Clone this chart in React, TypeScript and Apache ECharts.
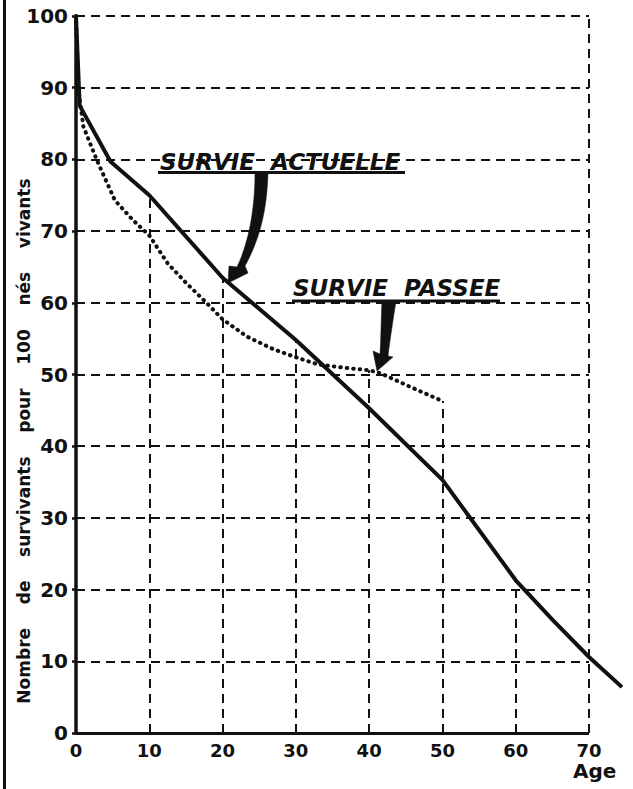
import React, { useEffect, useRef } from "react";
import * as echarts from "echarts";

// Survie actuelle (solid line)
const solidAges = [0, 0.5, 4.7, 10, 20, 30, 40, 50, 60, 65, 70, 74.5];
const solidValues = [100, 87.5, 79.7, 75, 63.5, 54.8, 45.3, 35.3, 21.3, 15.8, 10.6, 6.4];

// Survie passée (dotted line)
const dottedAges = [0, 0.3, 1, 2.8, 5.3, 7.8, 10, 12.5, 15, 17.8, 20, 23.3, 27, 30, 33, 37, 40, 41.5, 46, 50];
const dottedValues = [100, 90, 84.6, 80, 74.3, 71.5, 69.4, 65.5, 62.8, 60, 57.7, 55.3, 53.5, 52.4, 51.4, 50.9, 50.6, 50.2, 48.1, 46.3];

// vertical dashed drop lines (age, top value)
const dropAges = [10, 20, 30, 40, 50, 60, 70];
const dropTops = [74.8, 63.5, 54.8, 50.6, 46.3, 21.3, 100];

// horizontal dashed grid lines
const gridValues = [10, 20, 30, 40, 50, 60, 70, 80, 90, 100];

const xMin = 0;
const xLast = 70; // last labelled age / end of axis line
const xMax = 75; // room for the solid curve beyond 70
const xStep = 10;
const yMin = 0;
const yMax = 100;
const yStep = 10;

const labelActuelle = "SURVIE  ACTUELLE";
const labelPassee = "SURVIE  PASSEE";
const yTitle = "Nombre    de    survivants    pour    100    nés    vivants";
const xTitle = "Age";

const arrow1 =
  "M255 173 L268 173 C267 205 262 235 245 266 L248 273 L228 283 L229 266 L237 267 C250 240 255 205 255 173 Z";
const arrow2 =
  "M382 301 L396 301 C393 320 390 340 388 356 L393 357 L377 371 L373 351 L380 354 C381 340 381 320 382 301 Z";

let registered = false;
function registerShapes() {
  if (registered) return;
  registered = true;
  echarts.graphic.registerShape("arrowOne", echarts.graphic.extendPath(arrow1, {}) as any);
  echarts.graphic.registerShape("arrowTwo", echarts.graphic.extendPath(arrow2, {}) as any);
}

export default function App() {
  const ref = useRef<HTMLDivElement>(null);

  useEffect(() => {
    if (!ref.current) return;
    registerShapes();
    const chart = echarts.init(ref.current, null, { renderer: "svg" });
    const ink = "#111";
    const font = '"DejaVu Sans", sans-serif';
    const dash = [9, 6];

    const option: any = {
      animation: false,
      backgroundColor: "#fff",
      grid: {
        left: 76,
        top: 16,
        width: (513 * xMax) / xLast,
        height: 717,
        containLabel: false,
        outerBoundsMode: "none",
      },
      xAxis: {
        type: "value",
        min: xMin,
        max: xMax,
        interval: xStep,
        axisLine: { show: false },
        axisTick: { show: false },
        splitLine: { show: false },
        axisLabel: {
          color: ink,
          fontFamily: font,
          fontWeight: "bold",
          fontSize: 18,
          margin: 8,
          formatter: (v: number) => (v <= xLast ? String(v) : ""),
        },
      },
      yAxis: {
        type: "value",
        min: yMin,
        max: yMax,
        interval: yStep,
        axisLine: { show: true, lineStyle: { color: ink, width: 3.5 } },
        axisTick: { show: true, length: 4, lineStyle: { color: ink, width: 2.5 } },
        splitLine: { show: false },
        axisLabel: {
          color: ink,
          fontFamily: font,
          fontWeight: "bold",
          fontSize: 20,
          margin: 8,
        },
      },
      series: [
        {
          name: "grid",
          type: "line",
          data: [[xMin, yMin]],
          symbol: "none",
          lineStyle: { opacity: 0 },
          silent: true,
          z: 1,
          markLine: {
            silent: true,
            symbol: ["none", "none"],
            label: { show: false },
            lineStyle: { color: ink, width: 2, type: dash },
            data: [
              ...dropAges.map((a, i) => [{ coord: [a, yMin] }, { coord: [a, dropTops[i]] }]),
              ...gridValues.map((v) => [{ coord: [xMin, v] }, { coord: [xLast, v] }]),
              [
                { coord: [xMin, yMin], lineStyle: { type: "solid", width: 3 } },
                { coord: [xLast, yMin] },
              ],
            ],
          },
        },
        {
          name: "Survie passée",
          type: "line",
          data: dottedAges.map((a, i) => [a, dottedValues[i]]),
          symbol: "none",
          z: 4,
          lineStyle: { color: ink, width: 4, type: [0.5, 6], cap: "round" },
        },
        {
          name: "Survie actuelle",
          type: "line",
          data: solidAges.map((a, i) => [a, solidValues[i]]),
          symbol: "none",
          z: 5,
          lineStyle: { color: ink, width: 4, join: "round" },
        },
      ],
      graphic: [
        {
          type: "line",
          shape: { x1: 4.5, y1: 0, x2: 4.5, y2: 789 },
          style: { stroke: ink, lineWidth: 3 },
          silent: true,
        },
        {
          type: "text",
          x: 24,
          y: 441,
          rotation: Math.PI / 2,
          style: {
            text: yTitle,
            fill: ink,
            font: 'bold 17px "DejaVu Sans", sans-serif',
            align: "center",
            verticalAlign: "middle",
          },
          silent: true,
        },
        {
          type: "text",
          x: 160,
          y: 161.5,
          style: {
            text: labelActuelle,
            fill: ink,
            font: 'italic bold 23px "DejaVu Sans", sans-serif',
            align: "left",
            verticalAlign: "middle",
          },
          silent: true,
        },
        {
          type: "line",
          shape: { x1: 158, y1: 172.5, x2: 405, y2: 172.5 },
          style: { stroke: ink, lineWidth: 3 },
          silent: true,
        },
        {
          type: "text",
          x: 293,
          y: 287.5,
          style: {
            text: labelPassee,
            fill: ink,
            font: 'italic bold 23px "DejaVu Sans", sans-serif',
            align: "left",
            verticalAlign: "middle",
          },
          silent: true,
        },
        {
          type: "line",
          shape: { x1: 292, y1: 301, x2: 500, y2: 301 },
          style: { stroke: ink, lineWidth: 3 },
          silent: true,
        },
        { type: "arrowOne", x: 0, y: 0, style: { fill: ink, stroke: ink, lineWidth: 0.5 }, silent: true },
        { type: "arrowTwo", x: 0, y: 0, style: { fill: ink, stroke: ink, lineWidth: 0.5 }, silent: true },
        {
          type: "text",
          x: 573,
          y: 771,
          style: {
            text: xTitle,
            fill: ink,
            font: 'bold 20px "DejaVu Sans", sans-serif',
            align: "left",
            verticalAlign: "middle",
          },
          silent: true,
        },
      ],
    };

    chart.setOption(option);
    return () => chart.dispose();
  }, []);

  return (
    <div
      ref={ref}
      style={{ position: "absolute", left: 0, top: 0, width: 633, height: 789, background: "#fff" }}
    />
  );
}
